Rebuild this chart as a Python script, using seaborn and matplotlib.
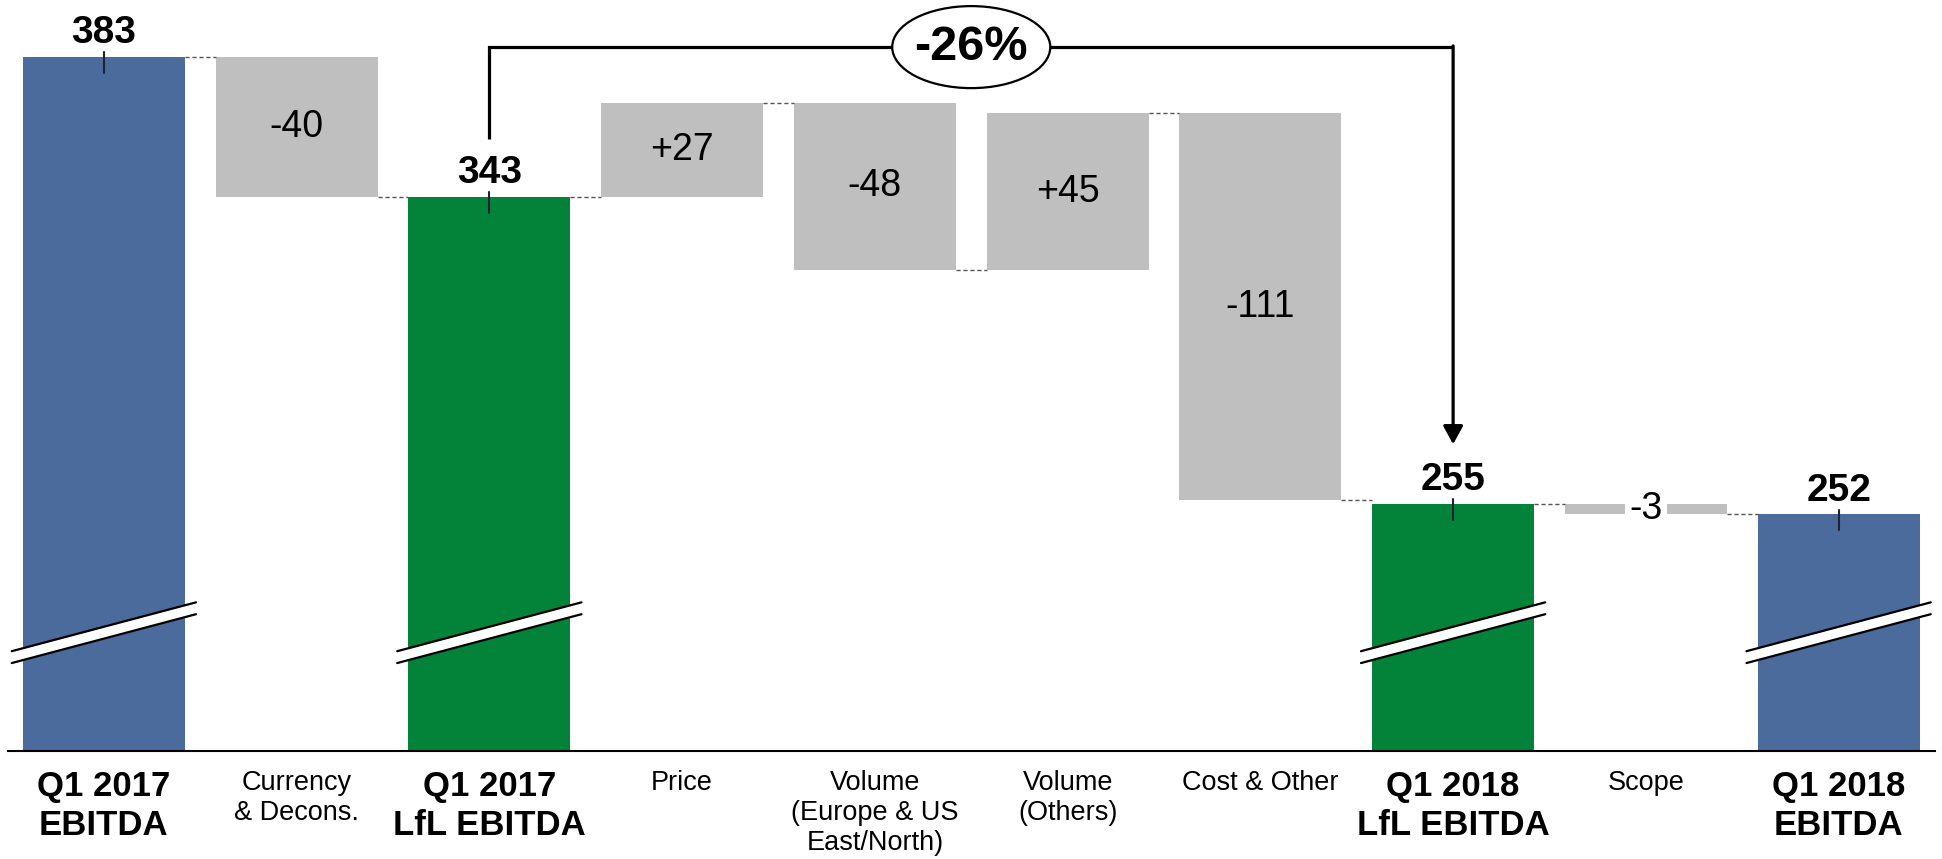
import numpy as np
import pandas as pd
import matplotlib
matplotlib.use('Agg')
import matplotlib.pyplot as plt
import seaborn as sns
from matplotlib.patches import Ellipse

# --- data ---
categories = ["Q1 2017\nEBITDA", "Currency\n& Decons.", "Q1 2017\nLfL EBITDA", "Price",
              "Volume\n(Europe & US\nEast/North)", "Volume\n(Others)", "Cost & Other",
              "Q1 2018\nLfL EBITDA", "Scope", "Q1 2018\nEBITDA"]
values = [383, -40, 343, 27, -48, 45, -111, 255, -3, 252]
kinds = ["reported", "delta", "lfl", "delta", "delta", "delta", "delta", "lfl", "delta", "reported"]
change_label = "-26%"
change_from, change_to = 2, 7

COLORS = {"reported": "#4A6B9B", "lfl": "#03833A", "delta": "#BFBFBF"}
BAR_W = 0.84

# waterfall geometry from the values
bottoms, heights, ends = [], [], []
level = 0
for v, k in zip(values, kinds):
    if k == "delta":
        start, level = level, level + v
        bottoms.append(min(start, level)); heights.append(abs(v))
    else:
        level = v
        bottoms.append(0); heights.append(v)
    ends.append(level)

sns.set_theme(style="white")
plt.rcParams['font.family'] = ['Liberation Sans', 'DejaVu Sans']
plt.rcParams.update({'text.color': 'black', 'xtick.color': 'black', 'xtick.labelcolor': 'black'})

fig = plt.figure(figsize=(19.42, 8.59), dpi=100)
ax = fig.add_axes([7.5/1942, 108/859, 1927.5/1942, 751/859])

df = pd.DataFrame({"category": categories, "height": heights})
sns.barplot(data=df, x="category", y="height", order=categories, bottom=bottoms,
            color="#BFBFBF", saturation=1, width=BAR_W, errorbar=None, ax=ax, zorder=2)
for p, k in zip(ax.patches, kinds):
    p.set_facecolor(COLORS[k]); p.set_edgecolor("none")

ax.set_xlim(-0.5, 9.5)
ax.set_ylim(184.2, 399.4)
ax.set_xlabel(""); ax.set_ylabel("")
ax.set_yticks([])
for s in ["top", "right", "left"]:
    ax.spines[s].set_visible(False)
ax.spines["bottom"].set_color("black"); ax.spines["bottom"].set_linewidth(1.5)
ax.tick_params(axis="x", length=0, pad=14, labelcolor="black")
for tl, k in zip(ax.get_xticklabels(), kinds):
    if k == "delta":
        tl.set_fontsize(19.5); tl.set_fontweight("normal")
    else:
        tl.set_fontsize(25); tl.set_fontweight("bold")

# connectors
for i in range(len(values) - 1):
    ax.plot([i + BAR_W/2, i + 1 - BAR_W/2], [ends[i], ends[i]], color="#555555",
            lw=1.0, ls=(0, (3, 2)), zorder=3)

# labels
for i, (v, k) in enumerate(zip(values, kinds)):
    if k == "delta":
        txt = f"{v:+d}"
        y = bottoms[i] + heights[i] / 2
        box = dict(boxstyle="square,pad=0.12", fc="white", ec="none") if heights[i] < 10 else None
        ax.text(i, y, txt, ha="center", va="center", fontsize=27, color="black", zorder=5, bbox=box)
    else:
        ax.annotate(str(v), (i, v), xytext=(0, 10), textcoords="offset points", color="black",
                    ha="center", va="baseline", fontsize=28, fontweight="bold", zorder=5)
        ax.plot([i, i], [v + 1.4, v - 4.6], color="#1f2233", lw=1.5, zorder=4)
        # axis break mark
        xs = np.array([i - 0.478, i + 0.478])
        lo = np.array([209.4, 223.4]); hi = np.array([212.8, 226.8])
        ax.fill_between(xs, lo, hi, color="white", zorder=4, lw=0)
        ax.plot(xs, lo, color="black", lw=1.6, zorder=4)
        ax.plot(xs, hi, color="black", lw=1.6, zorder=4)

# bracket with percentage change
top_y = 385.9
ax.plot([change_from, change_from, change_to], [359.5, top_y, top_y], color="black", lw=2.3,
        solid_capstyle="butt", solid_joinstyle="miter", zorder=3)
ax.annotate("", xy=(change_to, 272.1), xytext=(change_to, top_y + 0.35),
            arrowprops=dict(arrowstyle="-|>,head_length=0.55,head_width=0.3", mutation_scale=20,
                            lw=2.3, color="black", shrinkA=0, shrinkB=0), zorder=3)
mid = (change_from + change_to) / 2
ax.add_patch(Ellipse((mid, top_y), 0.82, 23.5, fc="white", ec="black", lw=1.6, zorder=5))
ax.text(mid, top_y, change_label, ha="center", va="center", fontsize=35, fontweight="bold",
        color="black", zorder=6)

fig.savefig("out.png", dpi=100)
